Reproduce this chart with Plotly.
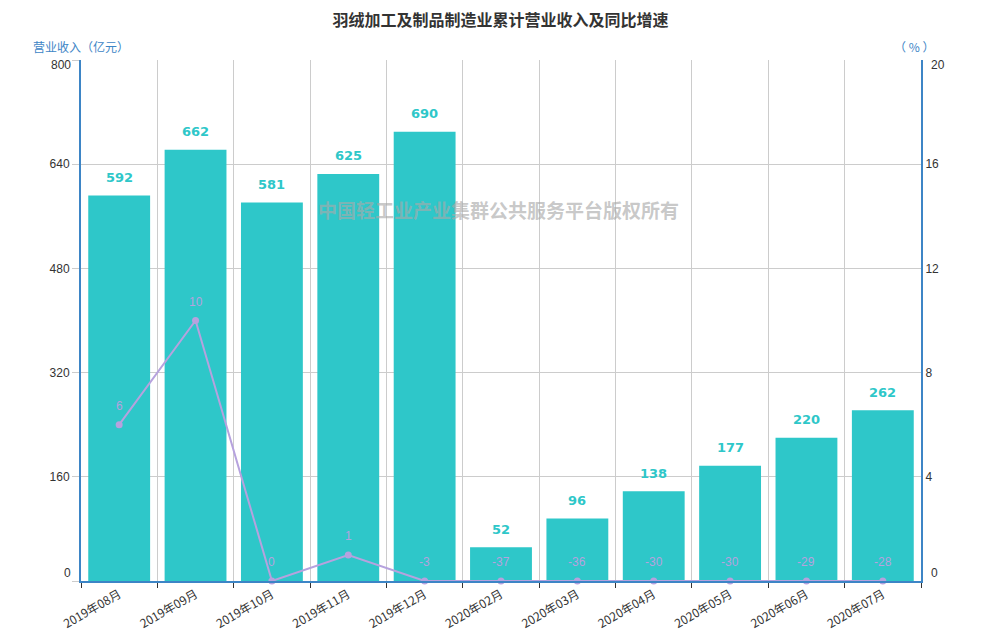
import plotly.graph_objects as go

# data
months = ["2019年08月", "2019年09月", "2019年10月", "2019年11月", "2019年12月",
          "2020年02月", "2020年03月", "2020年04月", "2020年05月", "2020年06月", "2020年07月"]
revenue = [592, 662, 581, 625, 690, 52, 96, 138, 177, 220, 262]
growth = [6, 10, 0, 1, -3, -37, -36, -30, -30, -29, -28]
left_ticks = [0, 160, 320, 480, 640, 800]
right_ticks = [0, 4, 8, 12, 16, 20]

bar_color = "#2ec7c9"
line_color = "#b6a2de"
axis_blue = "#3d85c6"
cn_font = "Noto Sans CJK SC, Liberation Sans, sans-serif"

fig = go.Figure()

fig.add_trace(go.Bar(
    x=months, y=revenue, name="营业收入",
    marker=dict(color=bar_color, line=dict(width=0)),
    hoverinfo="x+y", yaxis="y",
))

# right axis starts at 0, negative growth sits on the floor
growth_plot = [max(g, 0) for g in growth]
fig.add_trace(go.Scatter(
    x=months, y=growth_plot, name="同比增速",
    mode="lines+markers",
    line=dict(color=line_color, width=2),
    marker=dict(color=line_color, size=7),
    cliponaxis=False, yaxis="y2",
))

# value labels
for m, v in zip(months, revenue):
    fig.add_annotation(x=m, y=v, xref="x", yref="y", text="<b>%d</b>" % v,
                       showarrow=False, yshift=18,
                       font=dict(family="DejaVu Sans", size=13, color=bar_color))
for m, gp, g in zip(months, growth_plot, growth):
    fig.add_annotation(x=m, y=gp, xref="x", yref="y2", text=str(g),
                       showarrow=False, yshift=19,
                       font=dict(family="Liberation Sans", size=12, color=line_color))

# end tick labels are nudged inward, like the original
ends = (0, -1)
for i, shift in zip(ends, (8, -5)):
    fig.add_annotation(x=0, xref="paper", xanchor="right", xshift=-8,
                       y=left_ticks[i], yref="y", yshift=shift,
                       text=str(left_ticks[i]), showarrow=False,
                       font=dict(size=12, color="#333333"))
    fig.add_annotation(x=1, xref="paper", xanchor="left", xshift=8,
                       y=right_ticks[i], yref="y2", yshift=shift,
                       text=str(right_ticks[i]), showarrow=False,
                       font=dict(size=12, color="#333333"))

fig.add_annotation(text="<b>中国轻工业产业集群公共服务平台版权所有</b>",
                   xref="paper", yref="paper", x=0.4976, y=0.714,
                   xanchor="center", yanchor="middle", showarrow=False,
                   font=dict(family=cn_font, size=19, color="rgba(170,170,170,0.65)"))
fig.add_annotation(text="营业收入（亿元）", xref="paper", yref="paper",
                   x=-0.059, y=1.006, xanchor="left", yanchor="bottom",
                   showarrow=False, font=dict(family=cn_font, size=12, color=axis_blue))
fig.add_annotation(text="（ % ）", xref="paper", yref="paper",
                   x=1.018, y=1.006, xanchor="right", yanchor="bottom",
                   showarrow=False, font=dict(family=cn_font, size=12, color=axis_blue))

inner = lambda ticks: ["" if t in (ticks[0], ticks[-1]) else str(t) for t in ticks]

fig.update_layout(
    width=1000, height=640,
    margin=dict(l=73, r=87, t=52, b=67),
    plot_bgcolor="white", paper_bgcolor="white",
    showlegend=False, bargap=0.19,
    title=dict(text="<b>羽绒加工及制品制造业累计营业收入及同比增速</b>",
               x=0.4925, xanchor="center", yref="container", y=0.99, yanchor="top",
               pad=dict(t=0, b=0),
               font=dict(family=cn_font, size=16, color="#333333")),
    font=dict(family="Liberation Sans, sans-serif", size=12, color="#333333"),
    xaxis=dict(type="category", range=[-0.5, len(months) - 0.5], automargin=False,
               tickson="boundaries", ticks="outside", ticklen=5,
               tickcolor="#333333", showgrid=True, gridcolor="#cccccc",
               showline=True, linecolor=axis_blue, linewidth=2,
               tickangle=-30, tickfont=dict(family=cn_font, size=12, color="#333333")),
    yaxis=dict(range=[0, 800], tickvals=left_ticks, ticktext=inner(left_ticks),
               showgrid=True, gridcolor="#cccccc",
               showline=True, linecolor=axis_blue, linewidth=2, automargin=False,
               zeroline=False, ticks="outside", ticklen=7, tickcolor="#cccccc",
               tickfont=dict(size=12)),
    yaxis2=dict(range=[0, 20], tickvals=right_ticks, ticktext=inner(right_ticks),
                overlaying="y", side="right", automargin=False,
                showgrid=False, showline=True, linecolor=axis_blue, linewidth=2,
                zeroline=False, ticks="", tickfont=dict(size=12)),
)

fig.write_html("out.html")
